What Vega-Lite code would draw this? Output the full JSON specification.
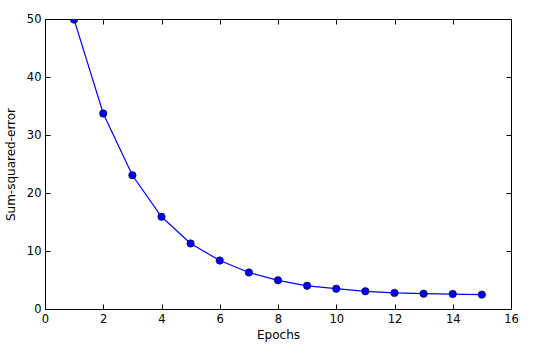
{
  "$schema": "https://vega.github.io/schema/vega-lite/v6.json",
  "autosize": "none",
  "width": 466,
  "height": 290,
  "padding": {"left": 45, "top": 19, "right": 24, "bottom": 55},
  "background": "white",
  "config": {
    "view": {"stroke": "black", "strokeWidth": 1},
    "axis": {
      "grid": false,
      "domainColor": "black",
      "tickColor": "black",
      "labelColor": "black",
      "titleColor": "black",
      "labelFont": "DejaVu Sans",
      "titleFont": "DejaVu Sans",
      "labelFontSize": 11.5,
      "titleFontSize": 12,
      "titleFontWeight": "normal",
      "tickSize": -5,
      "labelPadding": 9,
      "labelFlush": false,
      "labelOverlap": false
    }
  },
  "data": {
    "values": [
      {"epoch": 1, "sse": 49.9},
      {"epoch": 2, "sse": 33.7},
      {"epoch": 3, "sse": 23.05},
      {"epoch": 4, "sse": 15.9},
      {"epoch": 5, "sse": 11.3},
      {"epoch": 6, "sse": 8.35},
      {"epoch": 7, "sse": 6.3},
      {"epoch": 8, "sse": 4.95},
      {"epoch": 9, "sse": 4.0},
      {"epoch": 10, "sse": 3.5},
      {"epoch": 11, "sse": 3.05},
      {"epoch": 12, "sse": 2.78},
      {"epoch": 13, "sse": 2.64},
      {"epoch": 14, "sse": 2.58},
      {"epoch": 15, "sse": 2.48}
    ]
  },
  "layer": [
    {
      "mark": {"type": "line", "color": "#0000ff", "strokeWidth": 1.2, "clip": true},
      "encoding": {
        "x": {"field": "epoch", "type": "quantitative", "scale": {"domain": [0, 16], "nice": false, "zero": false},
              "axis": {"title": "Epochs", "values": [0, 2, 4, 6, 8, 10, 12, 14, 16], "titlePadding": 5}},
        "y": {"field": "sse", "type": "quantitative", "scale": {"domain": [0, 50], "nice": false},
              "axis": {"title": "Sum-squared-error", "values": [0, 10, 20, 30, 40, 50], "titlePadding": 9}}
      }
    },
    {
      "mark": {"type": "point", "filled": true, "shape": "circle", "size": 55, "color": "#0000ff", "stroke": "black", "strokeWidth": 0.6, "opacity": 1, "clip": true},
      "encoding": {
        "x": {"field": "epoch", "type": "quantitative", "scale": {"domain": [0, 16], "nice": false, "zero": false},
              "axis": {"orient": "top", "labels": false, "title": null, "domain": false, "values": [0, 2, 4, 6, 8, 10, 12, 14, 16]}},
        "y": {"field": "sse", "type": "quantitative", "scale": {"domain": [0, 50], "nice": false},
              "axis": {"orient": "right", "labels": false, "title": null, "domain": false, "values": [0, 10, 20, 30, 40, 50]}}
      }
    }
  ],
  "resolve": {"axis": {"x": "independent", "y": "independent"}}
}
